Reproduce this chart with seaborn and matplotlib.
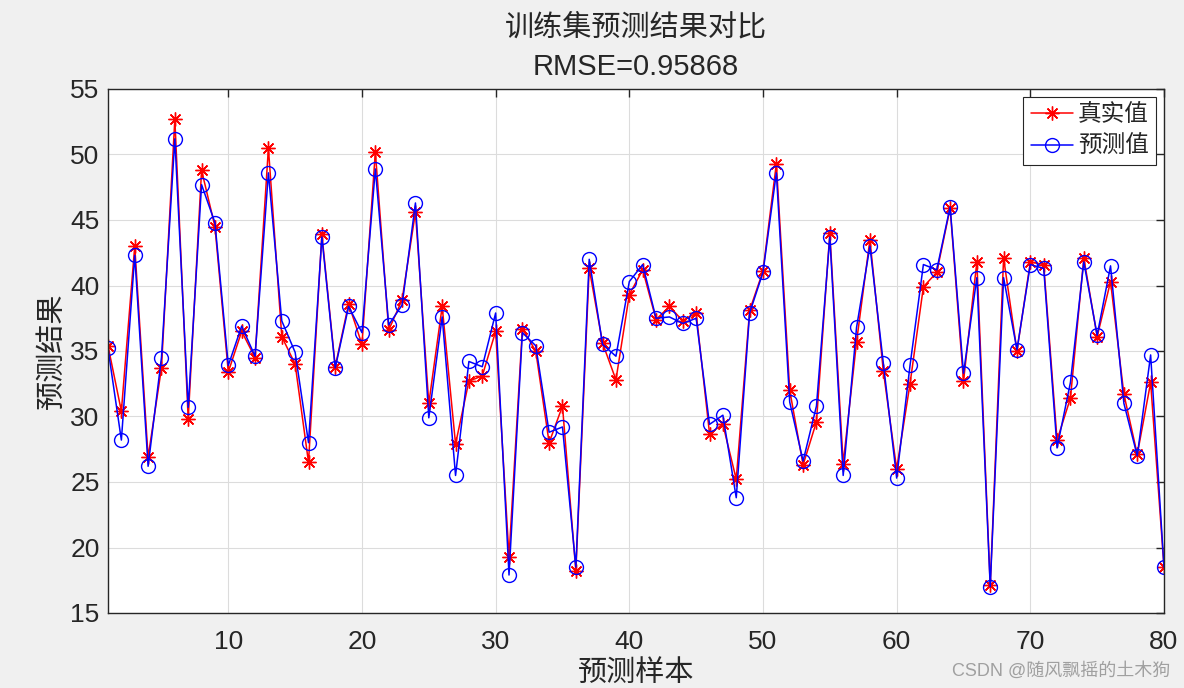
import matplotlib
matplotlib.use("Agg")
import matplotlib.pyplot as plt
import seaborn as sns
import numpy as np
import pandas as pd

sample_idx = list(range(1, 81))
true_vals = [35.4, 30.4, 43.0, 26.9, 33.7, 52.7, 29.8, 48.8, 44.5, 33.4,
             36.5, 34.5, 50.5, 36.1, 34.0, 26.5, 43.9, 33.8, 38.6, 35.5,
             50.2, 36.6, 38.9, 45.6, 31.0, 38.4, 27.9, 32.7, 33.1, 36.5,
             19.3, 36.7, 35.0, 28.0, 30.8, 18.2, 41.3, 35.6, 32.8, 39.3,
             41.2, 37.4, 38.4, 37.3, 37.9, 28.7, 29.4, 25.2, 38.1, 41.1,
             49.3, 32.0, 26.3, 29.6, 44.0, 26.4, 35.7, 43.5, 33.5, 26.0,
             32.5, 39.9, 41.0, 45.9, 32.7, 41.8, 17.1, 42.1, 35.0, 41.8,
             41.6, 28.2, 31.4, 42.1, 36.1, 40.3, 31.7, 27.1, 32.6, 18.5]
pred_vals = [35.2, 28.2, 42.3, 26.2, 34.5, 51.2, 30.7, 47.7, 44.8, 33.9,
             36.9, 34.6, 48.6, 37.3, 34.9, 28.0, 43.7, 33.7, 38.4, 36.4,
             48.9, 37.0, 38.5, 46.3, 29.9, 37.6, 25.5, 34.2, 33.8, 37.9,
             17.9, 36.4, 35.4, 28.8, 29.2, 18.5, 42.0, 35.5, 34.6, 40.3,
             41.6, 37.5, 37.6, 37.1, 37.5, 29.4, 30.1, 23.8, 37.9, 41.0,
             48.6, 31.1, 26.6, 30.8, 43.7, 25.5, 36.8, 43.0, 34.1, 25.3,
             33.9, 41.6, 41.2, 46.0, 33.3, 40.6, 17.0, 40.6, 35.1, 41.6,
             41.3, 27.6, 32.6, 41.8, 36.2, 41.5, 31.0, 27.0, 34.7, 18.5]
x_ticks = [10, 20, 30, 40, 50, 60, 70, 80]
y_ticks = [15, 20, 25, 30, 35, 40, 45, 50, 55]

title_text = "训练集预测结果对比\nRMSE=0.95868"
xlabel_text = "预测样本"
ylabel_text = "预测结果"
legend_labels = ["真实值", "预测值"]

sns.set_style("white")
plt.rcParams['font.family'] = ['Liberation Sans', 'Noto Sans CJK SC', 'DejaVu Sans']
plt.rcParams['axes.unicode_minus'] = False

fig = plt.figure(figsize=(11.84, 6.88), dpi=100, facecolor='#f0f0f0')
ax = fig.add_axes([108/1184, 1-613/688, (1164-108)/1184, (613-89)/688])
ax.set_facecolor('white')

df = pd.DataFrame({"x": sample_idx, "true": true_vals, "pred": pred_vals})
sns.lineplot(data=df, x="x", y="true", ax=ax, color='red', marker=(8, 2, 0),
             markersize=10, markeredgecolor='red', markeredgewidth=1.0,
             linewidth=1.1, label=legend_labels[0])
sns.lineplot(data=df, x="x", y="pred", ax=ax, color='blue', marker='o',
             markersize=10, markerfacecolor='none', markeredgecolor='blue',
             markeredgewidth=1.0, linewidth=1.1, label=legend_labels[1])

ax.set_xlim(1, 80)
ax.set_ylim(15, 55)
ax.set_xticks(x_ticks)
ax.set_yticks(y_ticks)
ax.grid(True, color='#dcdcdc', linewidth=0.8)
ax.tick_params(axis='both', direction='in', top=True, right=True, length=6,
               labelsize=19, colors='#262626', width=1)
ax.tick_params(axis='x', pad=12)
ax.tick_params(axis='y', pad=6)
for s in ax.spines.values():
    s.set_color('#262626')
    s.set_linewidth(1)

ax.set_xlabel(xlabel_text, fontsize=21, color='#262626', labelpad=4)
ax.set_ylabel(ylabel_text, fontsize=21, color='#262626', labelpad=3)
ax.set_title(title_text, fontsize=21, color='#262626', linespacing=1.55, pad=10)

leg = ax.legend(loc='upper right', fontsize=17, frameon=True, fancybox=False,
                edgecolor='#262626', framealpha=1, borderpad=0.3,
                handlelength=1.8, handletextpad=0.2, labelspacing=0.4,
                borderaxespad=0.35)
leg.get_frame().set_linewidth(0.8)

fig.text(0.988, 0.012, "CSDN @随风飘摇的土木狗", ha='right', va='bottom',
         fontsize=13, color='#a0a0a0')

fig.savefig("out.png", dpi=100, facecolor=fig.get_facecolor())
